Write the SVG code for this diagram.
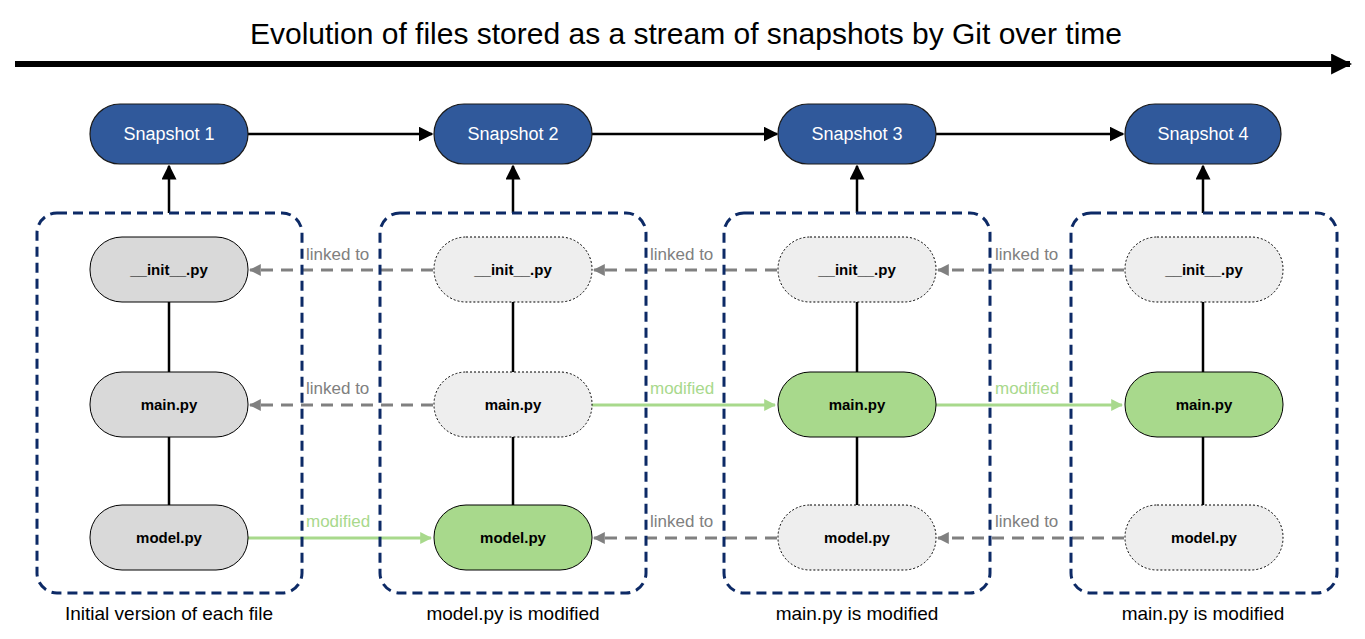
<svg xmlns="http://www.w3.org/2000/svg" width="1365" height="639" viewBox="0 0 1365 639">
<style>
text{font-family:"Liberation Sans",Arial,sans-serif}
.snap rect{fill:#30599b;stroke:#1a1a1a;stroke-width:1.2}
.snap text{fill:#fff;font-size:18px;text-anchor:middle}
.box{fill:none;stroke:#0d2a66;stroke-width:3;stroke-dasharray:10,6}
.f rect{stroke:#000;stroke-width:1}
.f text{font-size:15px;text-anchor:middle;fill:#000;font-weight:bold}
.orig{fill:#d9d9d9}
.link{fill:#eeeeee;stroke-dasharray:2,2}
.mod{fill:#a8d98c}
.cap{font-size:19px;text-anchor:middle}
.lbl{font-size:17px}
</style>
<defs>
<marker id="ab" viewBox="0 0 10 10" refX="9" refY="5" markerWidth="6" markerHeight="6" orient="auto"><path d="M0,0L10,5L0,10z" fill="#000"/></marker>
<marker id="ag" viewBox="0 0 10 10" refX="9" refY="5" markerWidth="4" markerHeight="4" orient="auto"><path d="M0,0L10,5L0,10z" fill="#808080"/></marker>
<marker id="agr" viewBox="0 0 10 10" refX="9" refY="5" markerWidth="4" markerHeight="4" orient="auto"><path d="M0,0L10,5L0,10z" fill="#a8d98c"/></marker>
<marker id="big" viewBox="0 0 10 10" refX="9" refY="5" markerWidth="3.5" markerHeight="3.5" orient="auto"><path d="M0,0L10,5L0,10z" fill="#000"/></marker>
</defs>
<text x="686" y="44" font-size="30" text-anchor="middle">Evolution of files stored as a stream of snapshots by Git over time</text>
<line x1="15" y1="64" x2="1350" y2="64" stroke="#000" stroke-width="6" marker-end="url(#big)"/>
<g id="connectors" stroke-width="2.5">
<g stroke="#000" marker-end="url(#ab)">
<line x1="248" y1="134" x2="432" y2="134"/><line x1="592" y1="134" x2="777" y2="134"/><line x1="936" y1="134" x2="1123" y2="134"/>
<line x1="169" y1="213" x2="169" y2="166"/><line x1="513" y1="213" x2="513" y2="166"/><line x1="857" y1="213" x2="857" y2="166"/><line x1="1203" y1="213" x2="1203" y2="166"/>
</g>
<g stroke="#000">
<line x1="169" y1="302" x2="169" y2="372"/><line x1="169" y1="437" x2="169" y2="505"/>
<line x1="513" y1="302" x2="513" y2="372"/><line x1="513" y1="437" x2="513" y2="505"/>
<line x1="857" y1="302" x2="857" y2="372"/><line x1="857" y1="437" x2="857" y2="505"/>
<line x1="1203" y1="302" x2="1203" y2="372"/><line x1="1203" y1="437" x2="1203" y2="505"/>
</g>
<g stroke="#808080" stroke-width="3" stroke-dasharray="12,8" marker-end="url(#ag)">
<line x1="433" y1="270" x2="250" y2="270"/><line x1="433" y1="405" x2="250" y2="405"/>
<line x1="777" y1="270" x2="594" y2="270"/><line x1="777" y1="538" x2="594" y2="538"/>
<line x1="1124" y1="270" x2="938" y2="270"/><line x1="1124" y1="538" x2="938" y2="538"/>
</g>
<g stroke="#a8d98c" stroke-width="3" marker-end="url(#agr)">
<line x1="248" y1="538" x2="431" y2="538"/><line x1="592" y1="405" x2="775" y2="405"/><line x1="936" y1="405" x2="1122" y2="405"/>
</g>
<g class="lbl" fill="#808080">
<text x="306" y="260">linked to</text><text x="306" y="394">linked to</text>
<text x="650" y="260">linked to</text><text x="650" y="527">linked to</text>
<text x="995" y="260">linked to</text><text x="995" y="527">linked to</text>
</g>
<g class="lbl" fill="#a8d98c">
<text x="306" y="527">modified</text><text x="650" y="394">modified</text><text x="995" y="394">modified</text>
</g>
</g>
<rect class="box" x="37" y="213" width="265" height="380" rx="20"/>
<rect class="box" x="380" y="213" width="266" height="380" rx="20"/>
<rect class="box" x="724" y="213" width="266" height="380" rx="20"/>
<rect class="box" x="1071" y="213" width="266" height="380" rx="20"/>
<g id="snap1" class="snap"><rect x="90" y="104" width="158" height="60" rx="30"/><text x="169" y="140">Snapshot 1</text></g>
<g id="snap2" class="snap"><rect x="434" y="104" width="158" height="60" rx="30"/><text x="513" y="140">Snapshot 2</text></g>
<g id="snap3" class="snap"><rect x="778" y="104" width="158" height="60" rx="30"/><text x="857" y="140">Snapshot 3</text></g>
<g id="snap4" class="snap"><rect x="1125" y="104" width="156" height="60" rx="30"/><text x="1203" y="140">Snapshot 4</text></g>
<g id="s1init" class="f"><rect class="orig" x="90" y="237" width="158" height="65" rx="32"/><text x="169" y="275">__init__.py</text></g>
<g id="s1main" class="f"><rect class="orig" x="90" y="372" width="158" height="65" rx="32"/><text x="169" y="410">main.py</text></g>
<g id="s1model" class="f"><rect class="orig" x="90" y="505" width="158" height="65" rx="32"/><text x="169" y="543">model.py</text></g>
<g id="s2init" class="f"><rect class="link" x="434" y="237" width="158" height="65" rx="32"/><text x="513" y="275">__init__.py</text></g>
<g id="s2main" class="f"><rect class="link" x="434" y="372" width="158" height="65" rx="32"/><text x="513" y="410">main.py</text></g>
<g id="s2model" class="f"><rect class="mod" x="434" y="505" width="158" height="65" rx="32"/><text x="513" y="543">model.py</text></g>
<g id="s3init" class="f"><rect class="link" x="778" y="237" width="158" height="65" rx="32"/><text x="857" y="275">__init__.py</text></g>
<g id="s3main" class="f"><rect class="mod" x="778" y="372" width="158" height="65" rx="32"/><text x="857" y="410">main.py</text></g>
<g id="s3model" class="f"><rect class="link" x="778" y="505" width="158" height="65" rx="32"/><text x="857" y="543">model.py</text></g>
<g id="s4init" class="f"><rect class="link" x="1125" y="237" width="158" height="65" rx="32"/><text x="1204" y="275">__init__.py</text></g>
<g id="s4main" class="f"><rect class="mod" x="1125" y="372" width="158" height="65" rx="32"/><text x="1204" y="410">main.py</text></g>
<g id="s4model" class="f"><rect class="link" x="1125" y="505" width="158" height="65" rx="32"/><text x="1204" y="543">model.py</text></g>
<text class="cap" x="169" y="620">Initial version of each file</text>
<text class="cap" x="513" y="620">model.py is modified</text>
<text class="cap" x="857" y="620">main.py is modified</text>
<text class="cap" x="1203" y="620">main.py is modified</text>
</svg>
